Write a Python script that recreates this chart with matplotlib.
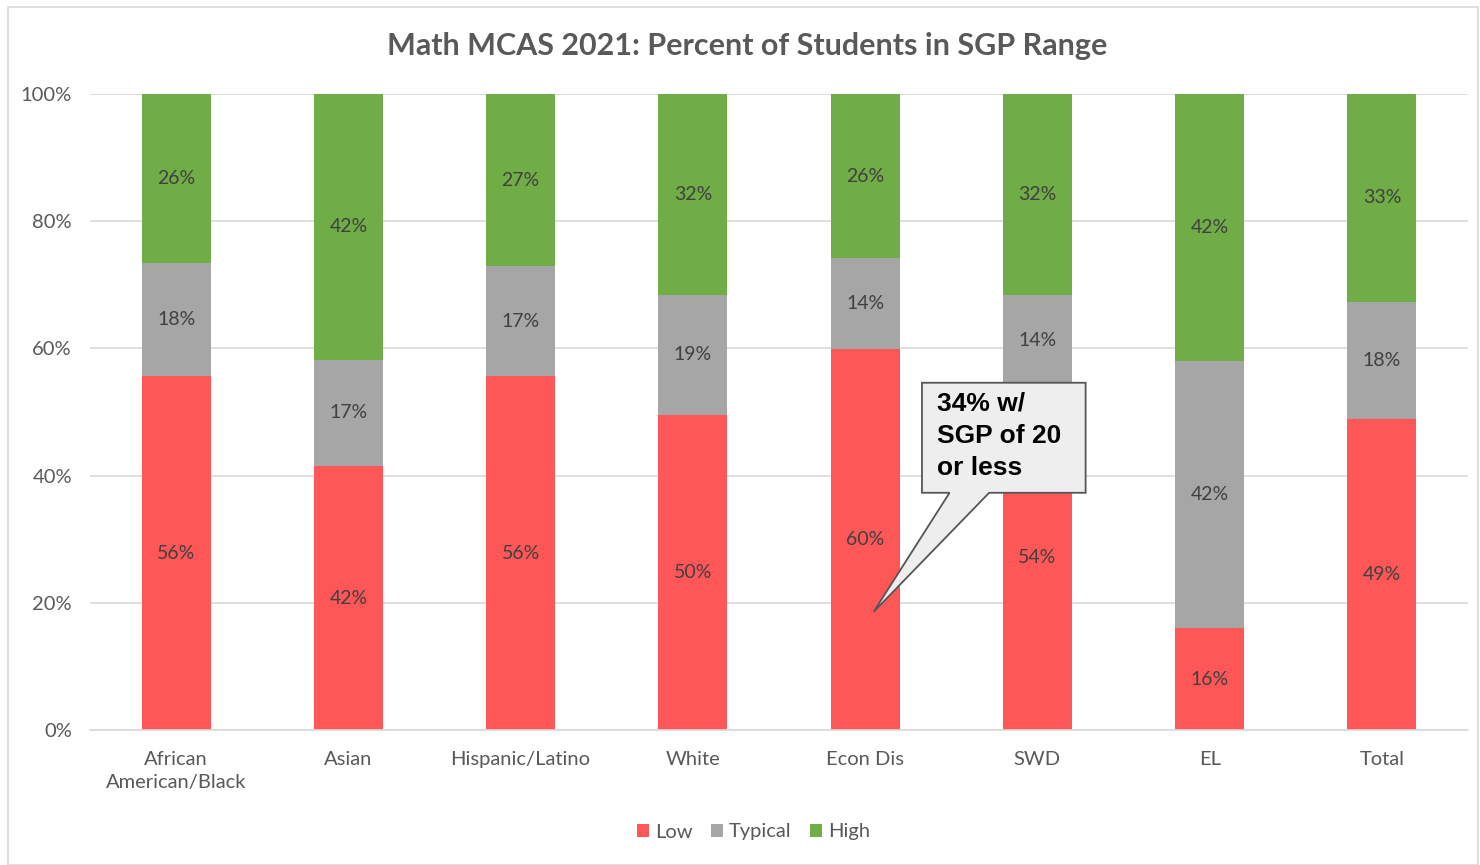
import numpy as np
import matplotlib.pyplot as plt
from matplotlib.patches import Polygon, Rectangle

groups = ['African\nAmerican/Black', 'Asian', 'Hispanic/Latino', 'White',
          'Econ Dis', 'SWD', 'EL', 'Total']
low = [55.6, 41.5, 55.6, 49.6, 59.9, 54.2, 16.0, 48.9]
typical = [17.9, 16.7, 17.3, 18.8, 14.3, 14.2, 42.0, 18.4]
high = [26.5, 41.8, 27.1, 31.6, 25.8, 31.6, 42.0, 32.7]
series = ['Low', 'Typical', 'High']
colors = ['#FF5757', '#A6A6A6', '#70AD47']

# callout (data coords)
note = '34% w/\nSGP of 20\nor less'
box = (4.33, 5.28, 37.3, 54.6)
wedge_base = (4.49, 4.72)
wedge_tip = (4.05, 18.6)

plt.rcParams['font.family'] = ['Lato', 'DejaVu Sans']

fig = plt.figure(figsize=(14.8, 8.65), dpi=100)
fig.patches.append(Rectangle((8/1480, 0), 1470/1480, 858/865, transform=fig.transFigure,
                             fill=False, ec='#D9D9D9', lw=1.2))
ax = fig.add_axes([90/1480, 135/865, 1378/1480, 636/865])

x = np.arange(len(groups))
bottom = np.zeros(len(groups))
for name, vals, c in zip(series, [low, typical, high], colors):
    vals = np.array(vals)
    ax.bar(x, vals, 0.4, bottom=bottom, color=c, label=name, zorder=2)
    for xi, b, v in zip(x, bottom, vals):
        ax.text(xi, b + v / 2, f'{v:.0f}%', ha='center', va='center',
                fontsize=14, color='#404040', zorder=3)
    bottom += vals

ax.set_xlim(-0.5, 7.5)
ax.set_ylim(0, 100)
ax.set_yticks(range(0, 101, 20))
ax.set_yticklabels([f'{t}%' for t in range(0, 101, 20)])
ax.set_xticks(x)
ax.set_xticklabels(groups, linespacing=1.45)
ax.tick_params(axis='both', length=0, labelsize=14.5, labelcolor='#595959')
ax.tick_params(axis='y', pad=13)
ax.tick_params(axis='x', pad=15)
ax.grid(axis='y', color='#D9D9D9', lw=1.2, zorder=0)
for s in ['top', 'right', 'left']:
    ax.spines[s].set_visible(False)
ax.spines['bottom'].set_color('#D9D9D9')
ax.spines['bottom'].set_linewidth(1.2)

x0, x1, y0, y1 = box
pts = [(x0, y1), (x1, y1), (x1, y0), (wedge_base[1], y0), wedge_tip,
       (wedge_base[0], y0), (x0, y0)]
ax.add_patch(Polygon(pts, closed=True, fc='#EEEEEE', ec='#555555', lw=1.3, zorder=4))
ax.text(x0 + 0.09, y1 - 1.3, note, ha='left', va='top', fontsize=19, fontweight='bold',
        family=['Liberation Sans', 'DejaVu Sans'], color='black', zorder=5, linespacing=1.45)

fig.text(0.505, 1 - 46/865, 'Math MCAS 2021: Percent of Students in SGP Range',
         ha='center', va='center', fontsize=22, fontweight='bold', color='#595959')
fig.legend(loc='center', bbox_to_anchor=(0.509, 33/865), ncol=3, frameon=False,
           fontsize=14.5, labelcolor='#595959', handlelength=0.6, handleheight=0.6,
           handletextpad=0.3, columnspacing=0.9)

fig.savefig('out.png', dpi=100)
